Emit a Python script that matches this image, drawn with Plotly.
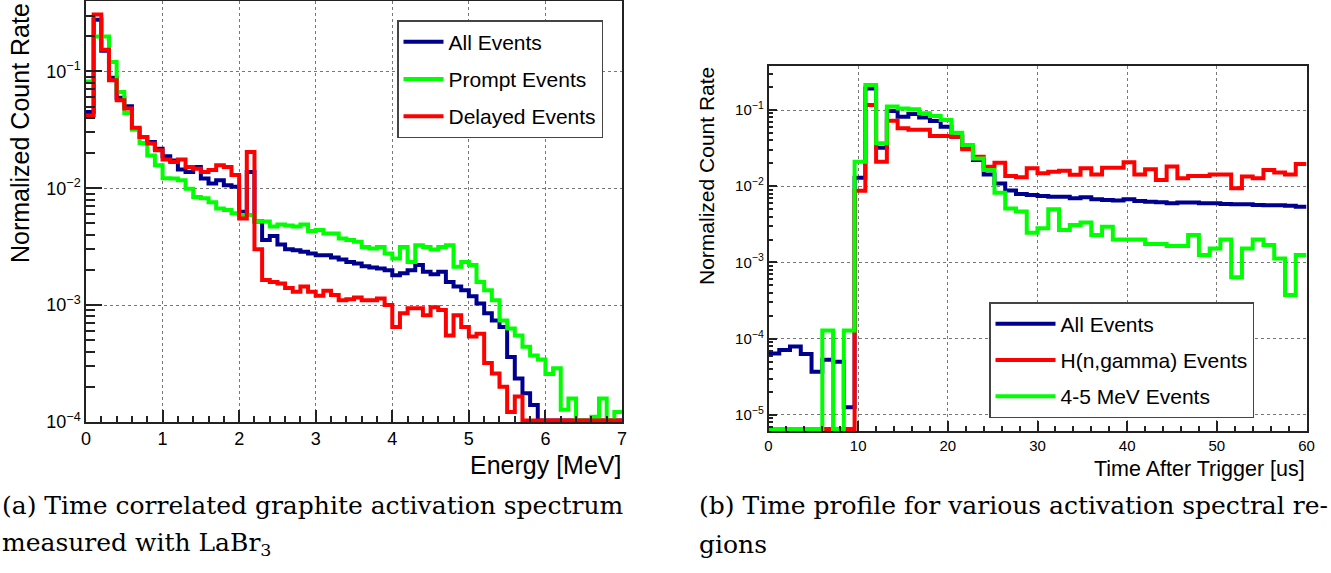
import numpy as np
import plotly.graph_objects as go

# ---------------- data ----------------
E_BIN_WIDTH = 0.1   # MeV
N_E_BINS = 70
T_BIN_WIDTH = 1.2   # us
N_T_BINS = 50

# (a) energy spectra, normalized count rate per 0.1 MeV bin (0 = empty bin)
energy_all = [
    0.045, 0.277, 0.15, 0.088, 0.0596, 0.0502, 0.032, 0.0275, 0.0249, 0.0218,
    0.0188, 0.0173, 0.0145, 0.0138, 0.0152, 0.0121, 0.011, 0.0117, 0.0106, 0.0103,
    0.0063, 0.0138, 0.0052, 0.0036, 0.0039, 0.0033, 0.0030, 0.00295, 0.00286, 0.00277,
    0.00267, 0.00267, 0.00256, 0.00246, 0.00234, 0.00227, 0.00215, 0.0021, 0.00206, 0.00199,
    0.0018, 0.00187, 0.00199, 0.0022, 0.00193, 0.00184, 0.00193, 0.00158, 0.00144, 0.00134,
    0.00119, 0.00103, 0.00085, 0.00074, 0.00065, 0.00036, 0.000236, 0.000176, 0.00014, 0,
    0, 0, 0, 0, 0, 0, 0, 0, 0, 0,
]
energy_prompt = [
    0.082, 0.199, 0.199, 0.12, 0.0665, 0.044, 0.032, 0.0244, 0.0191, 0.0157,
    0.0122, 0.0121, 0.0117, 0.0099, 0.0084, 0.0082, 0.0076, 0.0067, 0.0065, 0.0061,
    0.0059, 0.0059, 0.0052, 0.0052, 0.0047, 0.0049, 0.0048, 0.0047, 0.0049, 0.0043,
    0.0044, 0.0041, 0.0041, 0.00372, 0.0036, 0.00348, 0.00315, 0.00305, 0.00315, 0.00277,
    0.00251, 0.00315, 0.00234, 0.00326, 0.00315, 0.00299, 0.00315, 0.00326, 0.00213, 0.00234,
    0.0022, 0.00158, 0.00134, 0.0011, 0.00074, 0.00063, 0.00055, 0.00044, 0.00037, 0.000343,
    0.000257, 0.000288, 0.000127, 0.000159, 0, 0, 0.000111, 0.000159, 0, 0.000122,
]
energy_delayed = [
    0.042, 0.307, 0.153, 0.084, 0.0565, 0.048, 0.033, 0.0275, 0.0241, 0.0211,
    0.0176, 0.0168, 0.0176, 0.0152, 0.0147, 0.0138, 0.0143, 0.0157, 0.0152, 0.013,
    0.0055, 0.0204, 0.0030, 0.00164, 0.00158, 0.00153, 0.0014, 0.0013, 0.00144, 0.0013,
    0.0012, 0.00133, 0.00122, 0.0011, 0.00112, 0.00116, 0.0011, 0.0011, 0.00114, 0.001,
    0.00065, 0.00085, 0.00094, 0.00094, 0.00082, 0.00096, 0.00091, 0.00055, 0.00082, 0.00065,
    0.00054, 0.00057, 0.00032, 0.00026, 0.0002, 0.000122, 0.000165, 0, 0, 0,
    0, 0, 0, 0, 0, 0, 0, 0, 0, 0,
]

# (b) time profiles, normalized count rate per 1.2 us bin (0 = empty bin)
time_all = [
    6.4e-5, 7.1e-5, 7.9e-5, 6.3e-5, 3.7e-5, 5.3e-5, 5.0e-5, 1.26e-5, 0.0129, 0.192,
    0.032, 0.097, 0.0818, 0.0887, 0.080, 0.0717, 0.0604, 0.0447, 0.0324, 0.0221,
    0.0143, 0.0109, 0.0088, 0.0079, 0.0077, 0.00745, 0.0073, 0.0073, 0.00695, 0.00716,
    0.00675, 0.0066, 0.00648, 0.00675, 0.00641, 0.00628, 0.00615, 0.00597, 0.0061, 0.0061,
    0.00597, 0.00597, 0.00585, 0.00579, 0.00579, 0.00567, 0.00562, 0.00562, 0.00556, 0.0054,
]
time_hng = [
    0, 0, 0, 0, 0, 0, 0, 0, 0.0087, 0.116,
    0.021, 0.072, 0.0575, 0.055, 0.055, 0.0456, 0.0456, 0.0447, 0.0305, 0.0244,
    0.018, 0.0204, 0.0136, 0.0131, 0.0172, 0.0148, 0.0155, 0.016, 0.0141, 0.0172,
    0.0143, 0.0175, 0.0175, 0.0206, 0.0143, 0.0167, 0.0121, 0.0181, 0.0127, 0.0136,
    0.0136, 0.0143, 0.0143, 0.0094, 0.0134, 0.0127, 0.0163, 0.0151, 0.0143, 0.0196,
]
time_45mev = [
    0, 0, 0, 0, 0, 1.28e-4, 0, 1.28e-4, 0.021, 0.213,
    0.0366, 0.111, 0.105, 0.102, 0.0904, 0.0834, 0.074, 0.0504, 0.0348, 0.0232,
    0.0163, 0.0082, 0.0051, 0.00465, 0.00246, 0.00281, 0.005, 0.00267, 0.0031, 0.00334,
    0.0023, 0.00295, 0.002, 0.002, 0.002, 0.00175, 0.00175, 0.00165, 0.00165, 0.0023,
    0.00125, 0.00153, 0.002, 0.00064, 0.00153, 0.002, 0.0017, 0.00113, 0.000375, 0.00125,
]

legend_a = ["All Events", "Prompt Events", "Delayed Events"]
legend_b = ["All Events", "H(n,gamma) Events", "4-5 MeV Events"]
caption_a = ["(a) Time correlated graphite activation spectrum", "measured with LaBr<sub>3</sub>"]
caption_b = ["(b) Time profile for various activation spectral re-", "gions"]

# ---------------- style ----------------
W, H = 1331, 573
SANS = "Liberation Sans, Arial, sans-serif"
SERIF = "DejaVu Serif, serif"
BLUE, GREEN, RED = "#00008f", "#00ff00", "#ff0000"
FRAME = "#222222"
LW = 4

YA_RANGE = [-4.0, -0.398]
YB_RANGE = [-5.21, -0.423]


def px_x(x):
    return x / W


def px_y(y):
    return 1 - y / H


def step(width, n, vals, floor):
    edges = np.arange(n + 1) * width
    v = [x if x > 0 else floor for x in vals]
    return edges, v + [v[-1]]


fig = go.Figure()

floor_a = 10 ** YA_RANGE[0] * 1.03
for name, vals, col in zip(legend_a, [energy_all, energy_prompt, energy_delayed], [BLUE, GREEN, RED]):
    x, y = step(E_BIN_WIDTH, N_E_BINS, vals, floor_a)
    fig.add_trace(go.Scatter(x=x, y=y, mode="lines", line=dict(shape="hv", color=col, width=LW),
                             name=name, legend="legend", legendgroup="a" + name,
                             xaxis="x", yaxis="y"))

floor_b = 10 ** YB_RANGE[0] * 1.06
for name, vals, col in zip(legend_b, [time_all, time_hng, time_45mev], [BLUE, RED, GREEN]):
    x, y = step(T_BIN_WIDTH, N_T_BINS, vals, floor_b)
    fig.add_trace(go.Scatter(x=x, y=y, mode="lines", line=dict(shape="hv", color=col, width=LW),
                             name=name, legend="legend2", legendgroup="b" + name,
                             xaxis="x2", yaxis="y2"))

decades = [10.0 ** k for k in range(-5, 0)]
dec_text = ["10<sup>\u2212%d</sup>" % (-k) for k in range(-5, 0)]
minor_vals = [m * 10.0 ** k for k in range(-6, 0) for m in range(2, 10)]

common_axis = dict(showline=True, linecolor=FRAME, linewidth=1.5, mirror=True,
                   showgrid=True, gridcolor="#777777", griddash="dot", gridwidth=1,
                   zeroline=False, ticks="inside", tickcolor=FRAME, tickwidth=1.5,
                   automargin=False)

fig.update_layout(
    width=W, height=H, margin=dict(l=0, r=0, t=0, b=0, autoexpand=False),
    paper_bgcolor="white", plot_bgcolor="white",
    font=dict(family=SANS, color="black"),
    xaxis=dict(domain=[px_x(86), px_x(622)], anchor="y", range=[0, 7], dtick=1,
               ticklen=12, tickfont=dict(size=18),
               minor=dict(dtick=0.2, ticks="inside", ticklen=6, tickcolor=FRAME, tickwidth=1.5, showgrid=False),
               **common_axis),
    yaxis=dict(domain=[px_y(422), px_y(1)], anchor="x", type="log", range=YA_RANGE,
               tickvals=decades[1:], ticktext=dec_text[1:], ticklen=16, tickfont=dict(size=18),
               minor=dict(tickvals=minor_vals, ticks="inside", ticklen=9, tickcolor=FRAME, tickwidth=1.5, showgrid=False),
               **common_axis),
    xaxis2=dict(domain=[px_x(768.5), px_x(1306.5)], anchor="y2", range=[0, 60], dtick=10,
                ticklen=10, tickfont=dict(size=15),
                minor=dict(dtick=2, ticks="inside", ticklen=5, tickcolor=FRAME, tickwidth=1.5, showgrid=False),
                **common_axis),
    yaxis2=dict(domain=[px_y(431), px_y(66)], anchor="x2", type="log", range=YB_RANGE,
                tickvals=decades, ticktext=dec_text, ticklen=9, tickfont=dict(size=15),
                minor=dict(tickvals=minor_vals, ticks="inside", ticklen=5, tickcolor=FRAME, tickwidth=1.5, showgrid=False),
                **common_axis),
    legend=dict(x=px_x(397), y=px_y(20), xanchor="left", yanchor="top",
                bgcolor="white", bordercolor="#444444", borderwidth=1.5,
                font=dict(family=SANS, size=21), tracegroupgap=7, itemwidth=40,
                entrywidth=205, entrywidthmode="pixels"),
    legend2=dict(x=px_x(989), y=px_y(302), xanchor="left", yanchor="top",
                 bgcolor="white", bordercolor="#444444", borderwidth=1.5,
                 font=dict(family=SANS, size=21), tracegroupgap=6, itemwidth=60,
                 entrywidth=255, entrywidthmode="pixels"),
)

ann = []
# axis titles (ROOT style: aligned to the axis end)
ann.append(dict(text="Normalized Count Rate", x=px_x(20), y=px_y(1), xref="paper", yref="paper",
                xanchor="center", yanchor="top", textangle=-90, showarrow=False,
                font=dict(family=SANS, size=25)))
ann.append(dict(text="Energy [MeV]", x=px_x(623), y=px_y(465), xref="paper", yref="paper",
                xanchor="right", yanchor="middle", showarrow=False, font=dict(family=SANS, size=25)))
ann.append(dict(text="Normalized Count Rate", x=px_x(706), y=px_y(65), xref="paper", yref="paper",
                xanchor="center", yanchor="top", textangle=-90, showarrow=False,
                font=dict(family=SANS, size=21)))
ann.append(dict(text="Time After Trigger [us]", x=px_x(1307), y=px_y(469), xref="paper", yref="paper",
                xanchor="right", yanchor="middle", showarrow=False, font=dict(family=SANS, size=21.5)))
# captions
for i, line in enumerate(caption_a):
    ann.append(dict(text=line, x=0, y=px_y(505 + 39 * i), xref="paper", yref="paper",
                    xanchor="left", yanchor="middle", showarrow=False,
                    font=dict(family=SERIF, size=25)))
for i, line in enumerate(caption_b):
    ann.append(dict(text=line, x=px_x(697), y=px_y(505 + 39 * i), xref="paper", yref="paper",
                    xanchor="left", yanchor="middle", showarrow=False,
                    font=dict(family=SERIF, size=25)))
fig.update_layout(annotations=ann)

fig.write_html("out.html")
